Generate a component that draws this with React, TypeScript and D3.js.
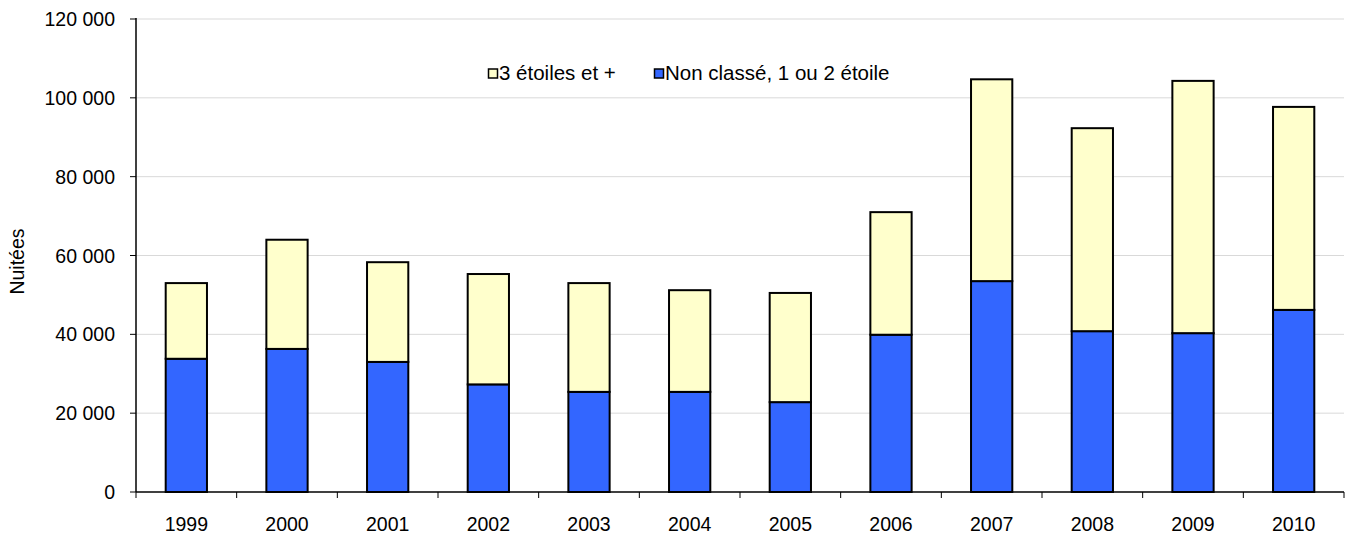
import React from "react";
import * as d3 from "d3";

const years = ["1999","2000","2001","2002","2003","2004","2005","2006","2007","2008","2009","2010"];
const lowClass = [33800, 36300, 33000, 27300, 25400, 25400, 22800, 39900, 53500, 40800, 40300, 46200];
const highClass = [19200, 27700, 25300, 28000, 27600, 25800, 27700, 31100, 51200, 51500, 64000, 51500];
const yTicks = [0, 20000, 40000, 60000, 80000, 100000, 120000];
const seriesNames = ["3 étoiles et +", "Non classé, 1 ou 2 étoile"];

const W = 1351, H = 538;
const left = 136, right = 1344, top = 19, bottom = 492;
const font = "'Liberation Sans', Arial, sans-serif";

export default function App() {
  const x = d3.scaleBand<string>().domain(years).range([left, right]).paddingInner(0.59).paddingOuter(0.295);
  const step = (right - left) / years.length;
  const y = d3.scaleLinear().domain([0, 120000]).range([bottom, top]);
  const fmt = (v: number) => d3.format(",")(v).replace(/,/g, " ");
  return (
    <svg width={W} height={H} style={{ position: "absolute", left: 0, top: 0, background: "#fff" }}>
      {yTicks.map((t) => (
        <g key={t}>
          {t > 0 && <line x1={left} x2={right} y1={y(t)} y2={y(t)} stroke="#d9d9d9" strokeWidth={1} />}
          <line x1={left - 6} x2={left} y1={y(t)} y2={y(t)} stroke="#000" />
          <text x={left - 21} y={y(t) + 7} textAnchor="end" fontFamily={font} fontSize={19.5} fill="#000">{fmt(t)}</text>
        </g>
      ))}
      {years.map((yr, i) => {
        const bx = x(yr)!;
        const bw = x.bandwidth();
        return (
          <g key={yr}>
            <rect x={bx} y={y(lowClass[i])} width={bw} height={y(0) - y(lowClass[i])} fill="#3366FF" stroke="#000" strokeWidth={2} />
            <rect x={bx} y={y(lowClass[i] + highClass[i])} width={bw} height={y(lowClass[i]) - y(lowClass[i] + highClass[i])} fill="#FFFFCC" stroke="#000" strokeWidth={2} />
            <text x={bx + bw / 2} y={531} textAnchor="middle" fontFamily={font} fontSize={19.5} fill="#000">{yr}</text>
          </g>
        );
      })}
      {d3.range(years.length + 1).map((i) => (
        <line key={i} x1={left + i * step} x2={left + i * step} y1={bottom} y2={bottom + 6} stroke="#000" />
      ))}
      <line x1={left} x2={left} y1={top - 1} y2={bottom} stroke="#000" strokeWidth={1.5} />
      <line x1={left} x2={right} y1={bottom} y2={bottom} stroke="#000" strokeWidth={1.5} />
      <text transform={`translate(24,${(top + bottom) / 2 + 6}) rotate(-90)`} textAnchor="middle" fontFamily={font} fontSize={19.5} fill="#000">Nuitées</text>
      <g>
        <rect x={488.5} y={69} width={9} height={9} fill="#FFFFCC" stroke="#000" strokeWidth={1.5} />
        <text x={499} y={80} fontFamily={font} fontSize={20.5} fill="#000">{seriesNames[0]}</text>
        <rect x={654.5} y={69} width={9} height={9} fill="#3366FF" stroke="#000" strokeWidth={1.5} />
        <text x={665} y={80} fontFamily={font} fontSize={20.5} fill="#000">{seriesNames[1]}</text>
      </g>
    </svg>
  );
}
